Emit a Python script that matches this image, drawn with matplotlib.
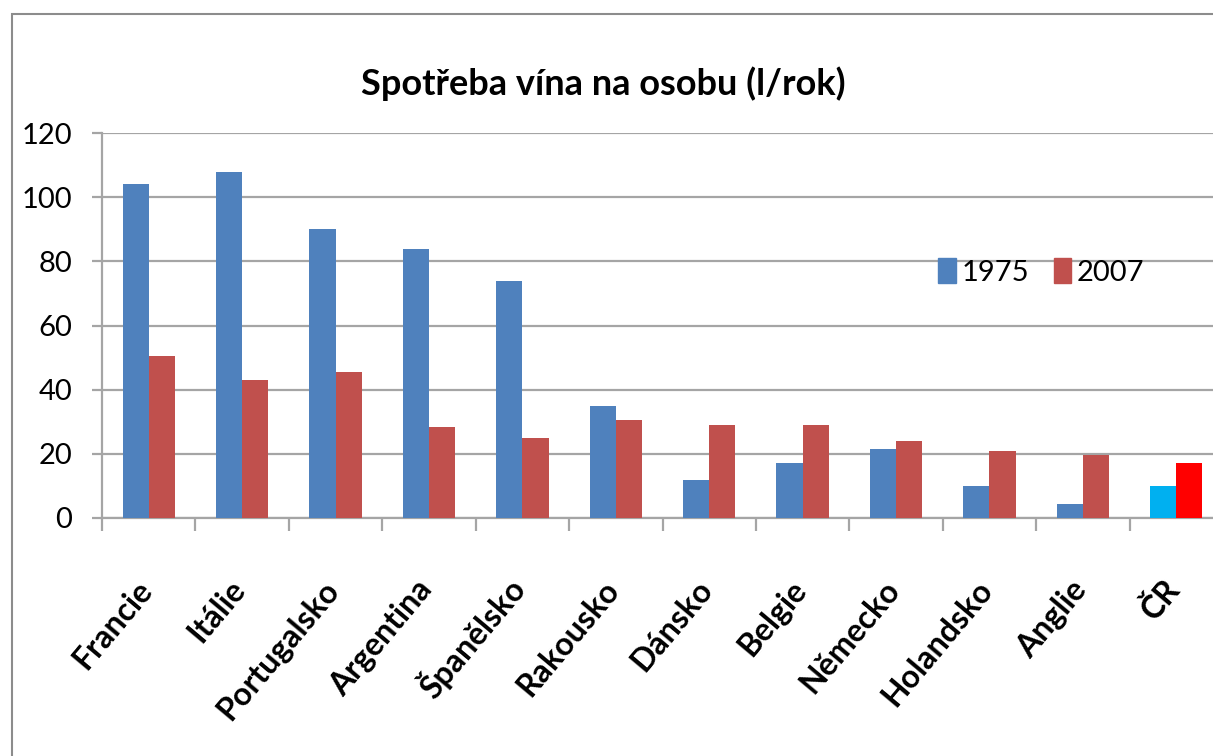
import matplotlib
matplotlib.use("Agg")
import matplotlib.pyplot as plt
import numpy as np
from matplotlib.patches import Rectangle, Patch
from matplotlib.transforms import ScaledTranslation

categories = ["Francie", "Itálie", "Portugalsko", "Argentina", "Španělsko", "Rakousko",
              "Dánsko", "Belgie", "Německo", "Holandsko", "Anglie", "ČR"]
values_1975 = [104, 108, 90, 84, 74, 35, 12, 17, 21.5, 10, 4.5, 10]
values_2007 = [50.5, 43, 45.5, 28.5, 25, 30.5, 29, 29, 24, 21, 19.5, 17]
series_names = ["1975", "2007"]
title = "Spotřeba vína na osobu (l/rok)"
yticks = [0, 20, 40, 60, 80, 100, 120]

blue, red = "#4F81BD", "#C0504D"
cr_blue, cr_red = "#00B0F0", "#FF0000"
grid_c = "#A5A5A5"

plt.rcParams["font.family"] = ["Lato", "DejaVu Sans"]

W, H = 1213, 756
fig = plt.figure(figsize=(W / 100, H / 100), dpi=100)
fig.patch.set_facecolor("white")

ax = fig.add_axes([102 / W, 1 - 518 / H, 1121 / W, 385 / H])
ax.set_facecolor("white")

x = np.arange(len(categories))
bw = 0.28
c1 = [blue] * (len(categories) - 1) + [cr_blue]
c2 = [red] * (len(categories) - 1) + [cr_red]
ax.bar(x - bw / 2, values_1975, bw, color=c1, label=series_names[0], zorder=3)
ax.bar(x + bw / 2, values_2007, bw, color=c2, label=series_names[1], zorder=3)

ax.set_xlim(-0.5, len(categories) - 0.5)
ax.set_ylim(0, 120)
ax.set_yticks(yticks)
ax.set_yticklabels([str(t) for t in yticks], fontsize=21)
ax.yaxis.grid(True, color=grid_c, lw=1.6, zorder=0)
ax.set_axisbelow(True)

for s in ["top", "right"]:
    ax.spines[s].set_visible(False)
for s in ["left", "bottom"]:
    ax.spines[s].set_color(grid_c)
    ax.spines[s].set_linewidth(1.6)

ax.tick_params(axis="y", length=7.5, width=1.6, color=grid_c, pad=14)

ax.set_xticks(x)
ax.set_xticklabels(categories, fontsize=23, fontweight="bold", rotation=50,
                   ha="right", va="baseline", rotation_mode="anchor")
ax.set_xticks(np.arange(len(categories) + 1) - 0.5, minor=True)
ax.tick_params(axis="x", which="major", length=0, pad=52)
ax.tick_params(axis="x", which="minor", length=9.5, width=1.6, color=grid_c)
for lab in ax.get_xticklabels():
    lab.set_transform(lab.get_transform() + ScaledTranslation(5 / 100, 0, fig.dpi_scale_trans))

handles = [Patch(color=blue), Patch(color=red)]
ax.legend(handles, series_names, ncol=2, frameon=False, fontsize=21,
          loc="center left", bbox_to_anchor=(938 / W, 1 - 272 / H),
          bbox_transform=fig.transFigure, borderpad=0, borderaxespad=0,
          handlelength=0.6, handleheight=0.9, handletextpad=0.2, columnspacing=0.85)

fig.text(603 / W, 1 - 84 / H, title, ha="center", va="center",
         fontsize=26, fontweight="bold")

fig.patches.append(Rectangle((12 / W, -0.1), 1.2, 1.1 - 14 / H, transform=fig.transFigure,
                             fill=False, edgecolor="#8C8C8C", lw=1.5))

fig.savefig("out.png", dpi=100, facecolor="white")
